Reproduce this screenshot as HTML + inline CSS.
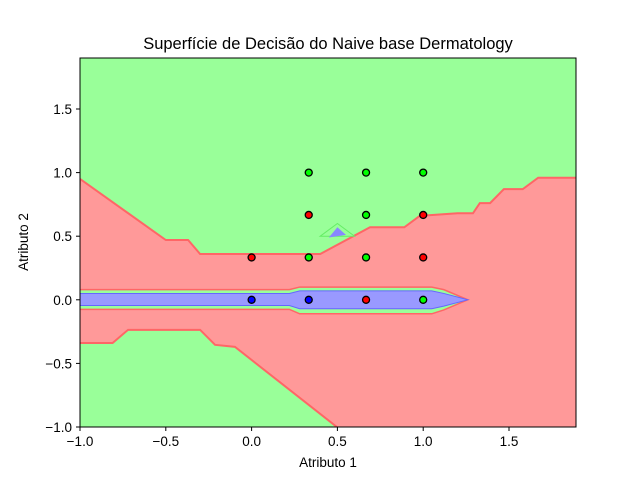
<!DOCTYPE html>
<html><head><meta charset="utf-8"><style>
body{margin:0;background:#fff}
text{font-family:"Liberation Sans","DejaVu Sans",sans-serif;fill:#000}
</style></head><body>
<svg id="chart" width="640" height="480" xmlns="http://www.w3.org/2000/svg">
<defs><clipPath id="clip"><rect x="80" y="58" width="496" height="369"/></clipPath></defs>
<rect width="640" height="480" fill="#fff"/>
<g id="plot" clip-path="url(#clip)"></g>
<g id="pts"></g>
<g id="axes"></g>
</svg>
<script>
const xTicks=[-1.0,-0.5,0.0,0.5,1.0,1.5];
const yTicks=[-1.0,-0.5,0.0,0.5,1.0,1.5];
const ptX=[0,0,0.333,0.333,0.333,0.333,0.667,0.667,0.667,0.667,1,1,1,1];
const ptY=[0.333,0,1,0.667,0.333,0,1,0.667,0.333,0,1,0.667,0.333,0];
const ptClass=['r','b','g','r','g','b','g','g','g','r','g','r','r','g'];
const redUpperX=[-1,-0.5,-0.37,-0.3,0.4,0.69,0.89,0.98,1.2,1.29,1.33,1.39,1.47,1.58,1.67,1.95];
const redUpperY=[0.95,0.47,0.47,0.36,0.36,0.57,0.57,0.66,0.68,0.68,0.76,0.76,0.87,0.87,0.96,0.96];
const redLowerX=[1.95,1.95,0.544,-0.097,-0.213,-0.30,-0.72,-0.81,-1.05];
const redLowerY=[0.96,-1.05,-1.05,-0.37,-0.354,-0.236,-0.236,-0.34,-0.34];
const bandX=[-1.05,0.22,0.28,1.05,1.12,1.26,1.12,1.05,0.28,0.22,-1.05];
const bandYg=[0.08,0.08,0.1,0.1,0.08,0,-0.08,-0.11,-0.11,-0.075,-0.075];
const bandYb=[0.05,0.05,0.07,0.07,0.05,0,-0.05,-0.07,-0.07,-0.045,-0.045];
const triX=[0.4,0.5,0.6];const triYo=[0.5,0.6,0.5];const triYi=[0.49,0.57,0.51];
const X=v=>80+(v+1)*171.6, Y=v=>299.8-v*127.2;
const ns='http://www.w3.org/2000/svg';
const plot=document.getElementById('plot'),axes=document.getElementById('axes'),pg=document.getElementById('pts');
function mk(t,a,p){const e=document.createElementNS(ns,t);for(const k in a)e.setAttribute(k,a[k]);p.appendChild(e);return e;}
function pts(xs,ys){return xs.map((x,i)=>X(x)+','+Y(ys[i])).join(' ');}
let e=mk('rect',{x:80,y:58,width:496,height:369,fill:'#99ff99'},plot);

e=mk('polygon',{points:pts(redUpperX.concat(redLowerX),redUpperY.concat(redLowerY)),fill:'#ff9999',stroke:'#ff6666','stroke-width':2},plot);

e=mk('polygon',{points:pts(bandX,bandYg),fill:'#99ff99',stroke:'#ff6666','stroke-width':1.5},plot);

e=mk('polygon',{points:pts(bandX,bandYb),fill:'#9999ff',stroke:'#6666ff','stroke-width':1},plot);

e=mk('polygon',{points:pts(triX,triYo),fill:'#99ff99',stroke:'#66ee66','stroke-width':1},plot);

e=mk('polygon',{points:pts(triX.map(v=>0.5+(v-0.5)*0.5),triYi),fill:'#8888ff'},plot);

const col={r:'#ff0000',g:'#00ff00',b:'#0000ff'};
ptX.forEach((x,i)=>{const c=mk('circle',{cx:X(x),cy:Y(ptY[i]),r:3.5,fill:col[ptClass[i]],stroke:'#000','stroke-width':1.3},pg);

});
e=mk('rect',{x:80,y:58,width:496,height:369,fill:'none',stroke:'#000','stroke-width':1},axes);

xTicks.forEach(v=>{mk('line',{x1:X(v),x2:X(v),y1:427,y2:431,stroke:'#000'},axes);
const t=mk('text',{x:X(v),y:446,'text-anchor':'middle','font-size':13.5},axes);t.textContent=v.toFixed(1).replace('-','−');

});
yTicks.forEach(v=>{mk('line',{x1:76,x2:80,y1:Y(v),y2:Y(v),stroke:'#000'},axes);
const t=mk('text',{x:72,y:Y(v)+5,'text-anchor':'end','font-size':13.5},axes);t.textContent=v.toFixed(1).replace('-','−');

});
e=mk('text',{x:328,y:467,'text-anchor':'middle','font-size':13.5},axes);e.textContent='Atributo 1';

e=mk('text',{x:28,y:242,'text-anchor':'middle','font-size':13.5,transform:'rotate(-90 28 242)'},axes);e.textContent='Atributo 2';

e=mk('text',{x:328,y:49,'text-anchor':'middle','font-size':16.5},axes);e.textContent='Superfície de Decisão do Naive base Dermatology';

</script>
</body></html>
